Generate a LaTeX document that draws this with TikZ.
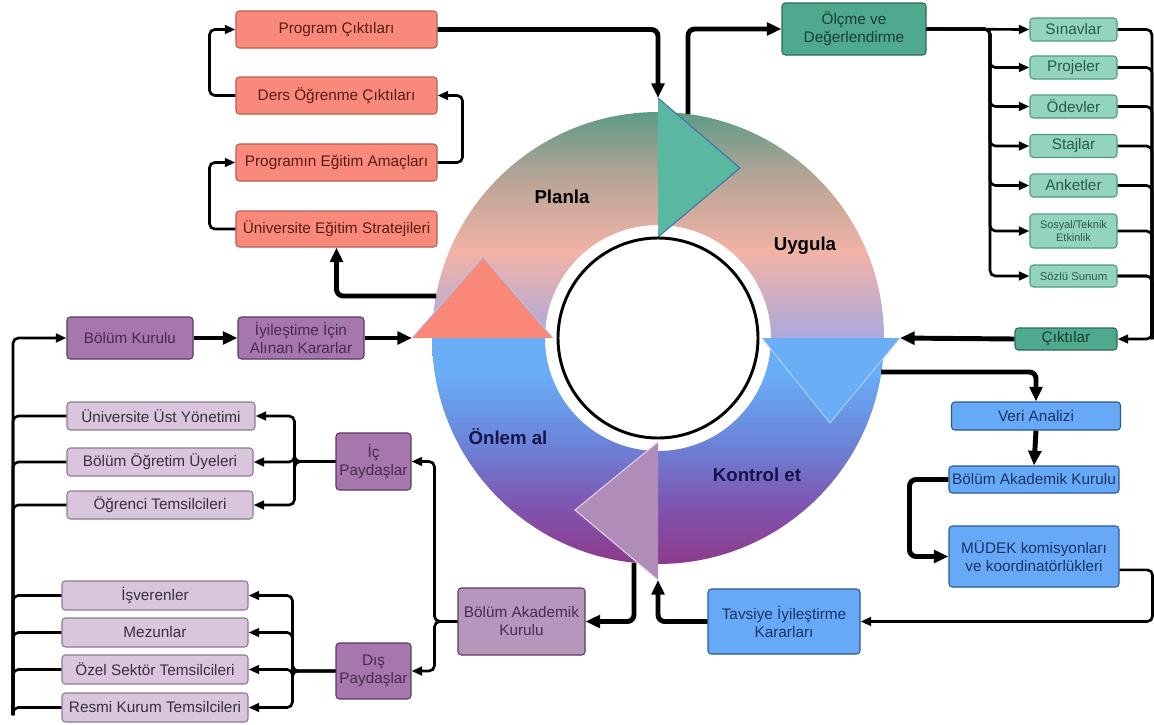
\documentclass[tikz,border=0pt]{standalone}
\usepackage{fontspec}
\setmainfont{Liberation Sans}
\usetikzlibrary{arrows.meta}
\definecolor{salF}{HTML}{F98A7B}
\definecolor{salD}{HTML}{B65E4E}
\definecolor{salT}{HTML}{5A1C14}
\definecolor{tealF}{HTML}{4FA98F}
\definecolor{tealD}{HTML}{2C6A58}
\definecolor{tealT}{HTML}{1C3E34}
\definecolor{ltealF}{HTML}{93D4BF}
\definecolor{ltealD}{HTML}{4E9A85}
\definecolor{ltealT}{HTML}{2A5A4E}
\definecolor{blueF}{HTML}{67A9F6}
\definecolor{blueD}{HTML}{2B5996}
\definecolor{blueT}{HTML}{1A3468}
\definecolor{dpurF}{HTML}{A677AD}
\definecolor{dpurD}{HTML}{5A3B60}
\definecolor{dpurT}{HTML}{4A2A50}
\definecolor{mpurF}{HTML}{B497BB}
\definecolor{lpurF}{HTML}{D9C6DC}
\definecolor{lpurD}{HTML}{8E7993}
\definecolor{lpurT}{HTML}{3A2E3E}
\definecolor{greenc}{HTML}{5C9B86}
\definecolor{tanc}{HTML}{B9A596}
\definecolor{pinkc}{HTML}{F3B3A6}
\definecolor{lavc}{HTML}{ABA8DE}
\definecolor{blueL}{HTML}{69ADF7}
\definecolor{blueM}{HTML}{6B84D9}
\definecolor{purpM}{HTML}{7F55B0}
\definecolor{purpD}{HTML}{8D3A8A}
\definecolor{triT}{HTML}{5BB8A0}
\definecolor{triS}{HTML}{F98878}
\definecolor{triB}{HTML}{6AAEF8}
\definecolor{triM}{HTML}{B08CB8}
\definecolor{navy}{HTML}{15154A}
\pgfdeclareverticalshading{upperring}{100bp}{color(0bp)=(lavc); color(25bp)=(lavc); color(44bp)=(pinkc); color(60bp)=(tanc); color(75bp)=(greenc); color(100bp)=(greenc)}
\pgfdeclareverticalshading{lowerring}{100bp}{color(0bp)=(purpD); color(25bp)=(purpD); color(38bp)=(purpM); color(52bp)=(blueM); color(67bp)=(blueL); color(100bp)=(blueL)}
\begin{document}
\begin{tikzpicture}[x=0.75pt,y=-0.75pt,
  box/.style={draw, line width=0.8pt, rounded corners=2.5pt, align=center, inner sep=0pt, font=\fontsize{11.5}{13.5}\selectfont},
  sz/.style 2 args={minimum width=#1*0.75pt, minimum height=#2*0.75pt},
  sal/.style={box, fill=salF, draw=salD, text=salT},
  teal/.style={box, fill=tealF, draw=tealD, text=tealT},
  lteal/.style={box, fill=ltealF, draw=ltealD, text=ltealT},
  blu/.style={box, fill=blueF, draw=blueD, text=blueT},
  dpur/.style={box, fill=dpurF, draw=dpurD, text=dpurT},
  mpur/.style={box, fill=mpurF, draw=dpurD, text=dpurT},
  lpur/.style={box, fill=lpurF, draw=lpurD, text=lpurT},
  ringlab/.style={font=\fontsize{14}{16}\selectfont\bfseries, inner sep=0pt},
  tl/.style={line width=2pt, rounded corners=4pt, -{Triangle[length=8pt,width=6.5pt]}},
  tln/.style={line width=2pt, rounded corners=4pt},
  tk/.style={line width=3.7pt, rounded corners=5pt, -{Triangle[length=11pt,width=9.5pt]}},
  tkn/.style={line width=3.7pt, rounded corners=5pt}]
\useasboundingbox (0,0) rectangle (1154,725);

% ---------------- ring ----------------
\begin{scope}[shift={(658,338)}, x=1pt, y=1pt]
  \shade[shading=upperring] (169.5,0) arc[start angle=0,end angle=180,radius=169.5] -- (-84.75,0) arc[start angle=180,end angle=0,radius=84.75] -- cycle;
  \shade[shading=lowerring] (169.5,0) arc[start angle=0,end angle=-180,radius=169.5] -- (-84.75,0) arc[start angle=-180,end angle=0,radius=84.75] -- cycle;
\end{scope}

\coordinate (tA1) at (658,98);  \coordinate (tA2) at (658,237); \coordinate (tA3) at (740,168);
\coordinate (tS1) at (412,338); \coordinate (tS2) at (553,338); \coordinate (tS3) at (483,257);
\coordinate (tB1) at (762,338); \coordinate (tB2) at (900,338); \coordinate (tB3) at (830,423);
\coordinate (tM1) at (658,442); \coordinate (tM2) at (658,580); \coordinate (tM3) at (575,510);

\fill[triT] (tA1) -- (tA3) -- (tA2) -- cycle;
\draw[blueD!70!blueF, line width=0.8pt] (tA1) -- (tA3) -- (tA2);
\fill[triS] (tS1) -- (tS3) -- (tS2) -- cycle;
\draw[blueF!60!white, line width=0.6pt] (tS1) -- (tS3) -- (tS2);
\fill[triB] (tB1) -- (tB3) -- (tB2) -- cycle;
\draw[blueF!50!white, line width=0.6pt] (tB1) -- (tB3) -- (tB2);
\fill[triM] (tM1) -- (tM3) -- (tM2) -- cycle;
\draw[triM!40!white, line width=0.8pt] (tM1) -- (tM3) -- (tM2);

\node[circle, draw=black, fill=white, line width=2.2pt, minimum size=150pt, inner sep=0pt] (core) at (658,338) {};

\node[ringlab] (lplan) at (562,197) {Planla};
\node[ringlab] (luyg) at (805,246) {Uygula};
\node[ringlab, text=navy] (lonl) at (508,437) {Önlem al};
\node[ringlab, text=navy] (lkon) at (757,475) {Kontrol et};

\coordinate (ringA) at (688,114);
\coordinate (ringB) at (436,296);
\coordinate (ringC) at (881,372);
\coordinate (ringD) at (634,563);

% ---------------- salmon ----------------
\node[sal, sz={201}{37}] (pc)  at (336.5,29.5) {Program Çıktıları};
\node[sal, sz={201}{37}] (doc) at (336.5,95.5) {Ders Öğrenme Çıktıları};
\node[sal, sz={201}{37}] (pea) at (336.5,162.5) {Programın Eğitim Amaçları};
\node[sal, sz={201}{36}] (ues) at (336.5,229) {Üniversite Eğitim Stratejileri};

% ---------------- teal ----------------
\node[teal, sz={144}{52}] (olc) at (854,29) {Ölçme ve\\Değerlendirme};
\node[lteal, sz={87}{23}] (sin) at (1073.5,29.5) {Sınavlar};
\node[lteal, sz={87}{23}] (pro) at (1073.5,67.5) {Projeler};
\node[lteal, sz={87}{23}] (ode) at (1073.5,106.5) {Ödevler};
\node[lteal, sz={87}{23}] (sta) at (1073.5,146) {Stajlar};
\node[lteal, sz={87}{23}] (ank) at (1073.5,185.5) {Anketler};
\node[lteal, sz={87}{34}, font=\fontsize{8.2}{9.5}\selectfont] (sos) at (1073.5,231) {Sosyal/Teknik\\Etkinlik};
\node[lteal, sz={87}{22}, font=\fontsize{8.5}{10}\selectfont] (soz) at (1073.5,276) {Sözlü Sunum};
\node[teal, sz={102}{22}] (cik) at (1066,339) {Çıktılar};

% ---------------- blue ----------------
\node[blu, sz={169}{28}] (veri) at (1036,416) {Veri Analizi};
\node[blu, sz={170}{27}] (bak2) at (1034,479.5) {Bölüm Akademik Kurulu};
\node[blu, sz={170}{61}] (mudek) at (1034,556.5) {MÜDEK komisyonları\\ve koordinatörlükleri};
\node[blu, sz={152}{65}] (tav) at (784,621.5) {Tavsiye İyileştirme\\Kararları};

% ---------------- purple ----------------
\node[mpur, sz={127}{67}] (bak) at (521.5,621.5) {Bölüm Akademik\\Kurulu};
\node[dpur, sz={75}{57}] (ic) at (373.5,461.5) {İç\\Paydaşlar};
\node[dpur, sz={75}{56}] (dis) at (373.5,671) {Dış\\Paydaşlar};
\node[dpur, sz={126}{42}] (bk) at (130,338) {Bölüm Kurulu};
\node[dpur, sz={126}{42}] (iyi) at (301,338) {İyileştime İçin\\Alınan Kararlar};

\node[lpur, sz={188}{28}] (uuy) at (161,416) {Üniversite Üst Yönetimi};
\node[lpur, sz={186}{28}] (bou) at (160,462) {Bölüm Öğretim Üyeleri};
\node[lpur, sz={186}{28}] (ot) at (160,505) {Öğrenci Temsilcileri};
\node[lpur, sz={186}{29}] (isv) at (155,595.5) {İşverenler};
\node[lpur, sz={186}{29}] (mez) at (155,632.5) {Mezunlar};
\node[lpur, sz={186}{29}] (ozel) at (155,669.5) {Özel Sektör Temsilcileri};
\node[lpur, sz={186}{29}] (resmi) at (155,707.5) {Resmi Kurum Temsilcileri};

% ---------------- connectors ----------------
% Planla
\draw[tl] (ues.west) -- ++(-26,0) |- (pea.west);
\draw[tl] (pea.east) -- ++(25,0) |- (doc.east);
\draw[tl] (doc.west) -- ++(-26,0) |- (pc.west);
\draw[tk] (pc.east) -| (tA1);
\draw[tk] (ringB) -| (ues.south);

% Uygula
\draw[tk] (ringA) |- (olc.west);
\coordinate (busL) at (990,29);
\coordinate (busR) at (1152,29);
\draw[tl] (olc.east) -- (sin.west);
\foreach \n in {pro,ode,sta,ank,sos,soz}
  \draw[tl] (olc.east) -| (busL |- \n.west) -- (\n.west);
\foreach \n in {sin,pro,ode,sta,ank,sos,soz}
  \draw[tln] (\n.east) -| (busR |- cik.east);
\draw[tl] (soz.east) -| (busR |- cik.east) -- (cik.east);
\draw[tk] (cik.west) -- (tB2);

% Kontrol et
\draw[tk] (ringC) -| (veri.north);
\draw[tk] (veri.south) -- (bak2.north);
\draw[tk] (bak2.west) -- ++(-39,0) |- (mudek.west);
\draw[tl] ([yshift=-10pt]mudek.east) -- ++(33,0) |- (tav.east);
\draw[tk] (tav.west) -| (tM2);

% Onlem al
\draw[tk] (ringD) |- (bak.east);
\draw[tl] (bak.west) -- ++(-23,0) |- (ic.east);
\draw[tl] (bak.west) -- ++(-23,0) |- (dis.east);
\foreach \n in {uuy,bou,ot}
  \draw[tl] (ic.west) -- ++(-41,0) |- (\n.east);
\foreach \n in {isv,mez,ozel,resmi}
  \draw[tl] (dis.west) -- ++(-43,0) |- (\n.east);
\coordinate (lb) at (13,715);
\draw[tl] (lb) |- (bk.west);
\foreach \n in {uuy,bou,ot,isv,mez,ozel,resmi}
  \draw[tln] (\n.west) -| (lb);
\draw[tk] (bk.east) -- (iyi.west);
\draw[tk] (iyi.east) -- (tS1);
\end{tikzpicture}
\end{document}
